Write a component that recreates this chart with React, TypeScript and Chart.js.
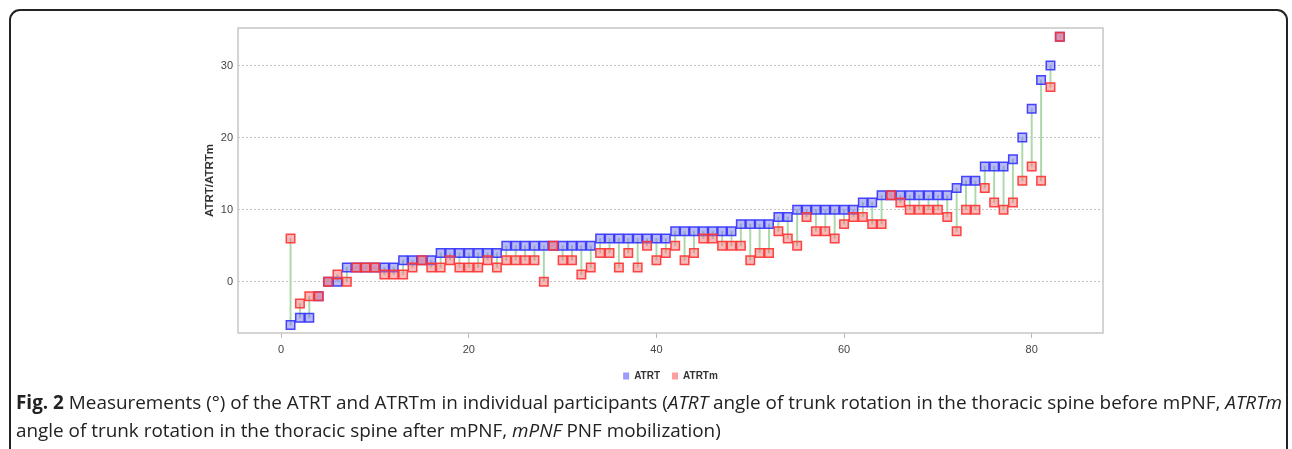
import React, { useEffect, useRef } from "react";
import { Chart, registerables } from "chart.js";

Chart.register(...registerables);

const participants = [
  1, 2, 3, 4, 5, 6, 7, 8, 9, 10, 11, 12, 13, 14, 15, 16, 17, 18, 19, 20,
  21, 22, 23, 24, 25, 26, 27, 28, 29, 30, 31, 32, 33, 34, 35, 36, 37, 38, 39, 40,
  41, 42, 43, 44, 45, 46, 47, 48, 49, 50, 51, 52, 53, 54, 55, 56, 57, 58, 59, 60,
  61, 62, 63, 64, 65, 66, 67, 68, 69, 70, 71, 72, 73, 74, 75, 76, 77, 78, 79, 80,
  81, 82, 83,
];

const atrt = [
  -6, -5, -5, -2, 0, 0, 2, 2, 2, 2, 2, 2, 3, 3, 3, 3, 4, 4, 4, 4,
  4, 4, 4, 5, 5, 5, 5, 5, 5, 5, 5, 5, 5, 6, 6, 6, 6, 6, 6, 6,
  6, 7, 7, 7, 7, 7, 7, 7, 8, 8, 8, 8, 9, 9, 10, 10, 10, 10, 10, 10,
  10, 11, 11, 12, 12, 12, 12, 12, 12, 12, 12, 13, 14, 14, 16, 16, 16, 17, 20, 24,
  28, 30, 34,
];

const atrtm = [
  6, -3, -2, -2, 0, 1, 0, 2, 2, 2, 1, 1, 1, 2, 3, 2, 2, 3, 2, 2,
  2, 3, 2, 3, 3, 3, 3, 0, 5, 3, 3, 1, 2, 4, 4, 2, 4, 2, 5, 3,
  4, 5, 3, 4, 6, 6, 5, 5, 5, 3, 4, 4, 7, 6, 5, 9, 7, 7, 6, 8,
  9, 9, 8, 8, 12, 11, 10, 10, 10, 10, 9, 7, 10, 10, 13, 11, 10, 11, 14, 16,
  14, 27, 34,
];

const xTicks = [0, 20, 40, 60, 80];
const yTicks = [0, 10, 20, 30];
const seriesNames = ["ATRT", "ATRTm"];
const yTitle = "ATRT/ATRTm";

const framePlugin = {
  id: "plotFrame",
  beforeDatasetsDraw(chart: any) {
    const { ctx, chartArea } = chart;
    const { left, top, right, bottom } = chartArea;
    ctx.save();
    ctx.strokeStyle = "#c6c6c6";
    ctx.lineWidth = 1.5;
    ctx.strokeRect(left, top, right - left, bottom - top);
    ctx.restore();
  },
};

function FigureChart() {
  const ref = useRef<HTMLCanvasElement | null>(null);

  useEffect(() => {
    if (!ref.current) return;
    const legendColors: Record<string, string> = {
      ATRT: "#9a9aff",
      ATRTm: "#ff9c9c",
    };
    const chart = new Chart(ref.current, {
      type: "scatter",
      data: {
        datasets: [
          {
            type: "scatter",
            label: seriesNames[0],
            data: participants.map((p, i) => ({ x: p, y: atrt[i] })),
            pointStyle: "rect",
            pointRadius: 6,
            borderWidth: 1.5,
            borderColor: "rgba(50,50,255,0.9)",
            backgroundColor: "rgba(115,115,235,0.5)",
            order: 2,
          },
          {
            type: "scatter",
            label: seriesNames[1],
            data: participants.map((p, i) => ({ x: p, y: atrtm[i] })),
            pointStyle: "rect",
            pointRadius: 6,
            borderWidth: 1.5,
            borderColor: "rgba(255,50,50,0.9)",
            backgroundColor: "rgba(240,115,115,0.5)",
            order: 1,
          },
          {
            type: "bar",
            label: "diff",
            data: participants.map((p, i) => ({ x: p, y: [atrt[i], atrtm[i]] })) as any,
            backgroundColor: "#acd9ac",
            borderWidth: 0,
            barThickness: 1.3,
            order: 3,
          } as any,
        ],
      },
      options: {
        animation: false,
        responsive: false,
        maintainAspectRatio: false,
        events: [],
        layout: { padding: { top: 13, right: 17, left: 0, bottom: 0 } },
        plugins: {
          tooltip: { enabled: false },
          legend: {
            display: true,
            position: "bottom",
            fullSize: false,
            labels: {
              boxWidth: 6,
              boxHeight: 7,
              padding: 12,
              color: "#333",
              font: { family: "'Liberation Sans', Arial, sans-serif", size: 10, weight: "bold" },
              filter: (item: any) => seriesNames.includes(item.text),
              sort: (a: any, b: any) => a.datasetIndex - b.datasetIndex,
              generateLabels: (c: any) =>
                c.data.datasets.map((d: any, i: number) => ({
                  text: d.label,
                  fillStyle: legendColors[d.label] || "#000",
                  strokeStyle: legendColors[d.label] || "#000",
                  lineWidth: 0,
                  hidden: false,
                  datasetIndex: i,
                  fontColor: "#333",
                })),
            },
          },
        },
        scales: {
          x: {
            type: "linear",
            offset: false,
            min: -4.6,
            max: 87.6,
            afterBuildTicks: (s: any) => {
              s.ticks = xTicks.map((v) => ({ value: v }));
            },
            afterFit: (s: any) => {
              s.height = 26;
            },
            grid: {
              display: true,
              offset: false,
              drawOnChartArea: false,
              drawTicks: true,
              tickLength: 5,
              color: "#b8b8b8",
            },
            border: { display: false },
            ticks: {
              padding: 5,
              color: "#444",
              font: { family: "'Liberation Sans', Arial, sans-serif", size: 11 },
              maxRotation: 0,
            },
          },
          y: {
            type: "linear",
            min: -7.1,
            max: 35.2,
            afterBuildTicks: (s: any) => {
              s.ticks = yTicks.map((v) => ({ value: v }));
            },
            afterFit: (s: any) => {
              s.width = 68;
            },
            grid: {
              display: true,
              drawOnChartArea: true,
              drawTicks: false,
              color: "#c4c4c4",
              lineWidth: 1,
            },
            border: { display: false, dash: [2, 2] },
            ticks: {
              padding: 5,
              color: "#444",
              font: { family: "'Liberation Sans', Arial, sans-serif", size: 11 },
            },
            title: {
              display: true,
              text: yTitle,
              color: "#333",
              font: { family: "'Liberation Sans', Arial, sans-serif", size: 11.5, weight: "bold" },
              padding: { top: 33, bottom: 0 },
            },
          },
        },
      },
      plugins: [framePlugin],
    });
    return () => chart.destroy();
  }, []);

  return (
    <canvas
      ref={ref}
      width={950}
      height={376}
      style={{ position: "absolute", left: 170, top: 15, width: 950, height: 376 }}
    />
  );
}

export default function App() {
  return (
    <div
      style={{
        position: "absolute",
        left: 0,
        top: 0,
        width: 1292,
        height: 449,
        overflow: "hidden",
        background: "#fff",
      }}
    >
      <div
        style={{
          position: "absolute",
          left: 9,
          top: 9,
          width: 1279,
          height: 480,
          border: "2px solid #232323",
          borderRadius: 11,
          boxSizing: "border-box",
        }}
      />
      <FigureChart />
      <div
        style={{
          position: "absolute",
          left: 16,
          top: 388,
          fontFamily: "'Open Sans', sans-serif",
          fontSize: 18.9,
          lineHeight: "28px",
          color: "#222",
          whiteSpace: "nowrap",
        }}
      >
        <b>Fig. 2</b> Measurements (°) of the ATRT and ATRTm in individual participants (
        <i>ATRT</i> angle of trunk rotation in the thoracic spine before mPNF, <i>ATRTm</i>
        <br />
        angle of trunk rotation in the thoracic spine after mPNF, <i>mPNF</i> PNF mobilization)
      </div>
    </div>
  );
}
